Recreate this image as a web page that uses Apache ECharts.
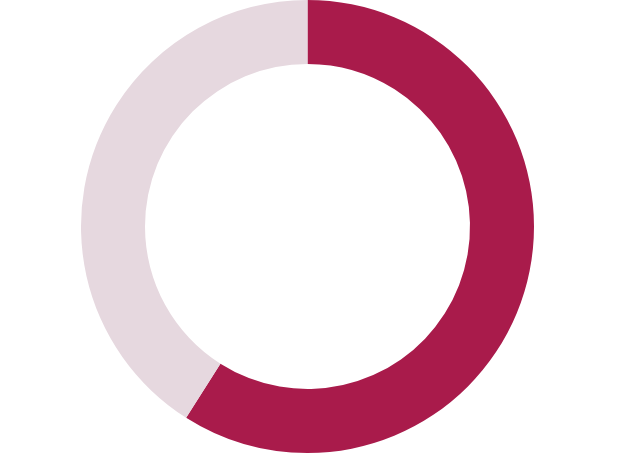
<!DOCTYPE html>
<html lang="en">
<head>
    <meta charset="UTF-8">
    <title>Donut</title>
    <script src="https://cdn.jsdelivr.net/npm/echarts@6/dist/echarts.min.js"></script>
    <style>
        html, body { margin: 0; padding: 0; background: #fff; }
        #chart { width: 617px; height: 456px; }
    </style>
</head>
<body>
    <div id="chart"></div>
    <script>
        // share values, clockwise from 12 o'clock
        var names = ['A', 'B'];
        var values = [59, 41];
        var colors = ['#A91B4B', '#E6D8DF'];

        var data = [];
        for (var i = 0; i < names.length; i++) {
            data.push({ name: names[i], value: values[i], itemStyle: { color: colors[i] } });
        }

        var myChart = echarts.init(document.getElementById('chart'));
        myChart.setOption({
            animation: false,
            series: [{
                type: 'pie',
                center: [307.5, 226.5],
                radius: [162.5, 226.5],
                startAngle: 90,
                clockwise: true,
                label: { show: false },
                labelLine: { show: false },
                emphasis: { disabled: true },
                itemStyle: { borderWidth: 0 },
                data: data
            }]
        });
    </script>
</body>
</html>
